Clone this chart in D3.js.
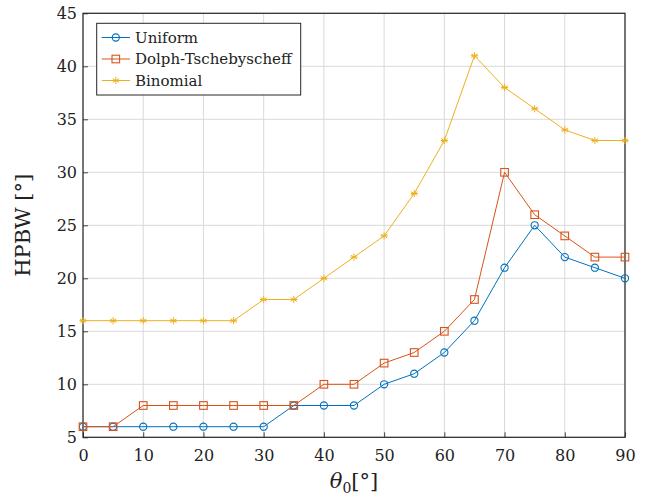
<!DOCTYPE html>
<html>
<head>
<meta charset="utf-8">
<script src="https://cdn.jsdelivr.net/npm/d3@7"></script>
<style>
  body { margin: 0; background: #fff; }
  svg text { font-family: "DejaVu Serif"; fill: #222; }
</style>
</head>
<body>
<div class="box"></div>
<script>
const angles = [0, 5, 10, 15, 20, 25, 30, 35, 40, 45, 50, 55, 60, 65, 70, 75, 80, 85, 90];
const uniform = [6, 6, 6, 6, 6, 6, 6, 8, 8, 8, 10, 11, 13, 16, 21, 25, 22, 21, 20];
const dolph = [6, 6, 8, 8, 8, 8, 8, 8, 10, 10, 12, 13, 15, 18, 30, 26, 24, 22, 22];
const binomial = [16, 16, 16, 16, 16, 16, 18, 18, 20, 22, 24, 28, 33, 41, 38, 36, 34, 33, 33];
const seriesNames = ['Uniform', 'Dolph-Tschebyscheff', 'Binomial'];
const xTicks = [0, 10, 20, 30, 40, 50, 60, 70, 80, 90];
const yTicks = [5, 10, 15, 20, 25, 30, 35, 40, 45];

const dims = {width: 646, height: 495, left: 83, right: 625, top: 13.3, bottom: 437.3};
const serif = '"DejaVu Serif"';

const svg = d3.select('.box')
              .append('svg')
              .attr('width', dims.width)
              .attr('height', dims.height);

const x = d3.scaleLinear().domain([0, 90]).range([dims.left, dims.right]);
const y = d3.scaleLinear().domain([5, 45]).range([dims.bottom, dims.top]);

// grille
const grid = svg.append('g');
grid.selectAll('.gx').data(xTicks).enter().append('line')
    .attr('x1', d => x(d)).attr('x2', d => x(d))
    .attr('y1', dims.top).attr('y2', dims.bottom)
    .attr('stroke', '#d9d9d9').attr('stroke-width', 1);
grid.selectAll('.gy').data(yTicks).enter().append('line')
    .attr('x1', dims.left).attr('x2', dims.right)
    .attr('y1', d => y(d)).attr('y2', d => y(d))
    .attr('stroke', '#d9d9d9').attr('stroke-width', 1);

// axes (ticks vers l'intérieur)
const xAxis = svg.append('g')
                 .attr('transform', `translate(0, ${dims.bottom})`)
                 .call(d3.axisBottom(x).tickValues(xTicks).tickSize(-5).tickPadding(12).tickSizeOuter(0));
const yAxis = svg.append('g')
                 .attr('transform', `translate(${dims.left}, 0)`)
                 .call(d3.axisLeft(y).tickValues(yTicks).tickSize(-5).tickPadding(6).tickSizeOuter(0));
[xAxis, yAxis].forEach(a => {
    a.attr('font-family', serif);
    a.select('.domain').remove();
    a.selectAll('line').attr('stroke', '#444');
    a.selectAll('text').style('font-size', '16px').attr('fill', '#222')
     .style('font-family', serif);
});
yAxis.selectAll('text').attr('dy', '0.35em');

// cadre
svg.append('rect')
   .attr('x', dims.left).attr('y', dims.top)
   .attr('width', dims.right - dims.left).attr('height', dims.bottom - dims.top)
   .attr('fill', 'none').attr('stroke', '#262626').attr('stroke-width', 1.2);

const colors = ['#0072BD', '#D95319', '#EDB120'];
const allSeries = [uniform, dolph, binomial];

const line = d3.line()
               .x((d, i) => x(angles[i]))
               .y(d => y(d));

const drawMarker = (g, kind, color, cx, cy) => {
    if (kind === 0) {
        g.append('circle').attr('cx', cx).attr('cy', cy).attr('r', 3.6)
         .attr('fill', 'none').attr('stroke', color).attr('stroke-width', 1.1);
    } else if (kind === 1) {
        g.append('rect').attr('x', cx - 3.8).attr('y', cy - 3.8)
         .attr('width', 7.6).attr('height', 7.6)
         .attr('fill', 'none').attr('stroke', color).attr('stroke-width', 1.1);
    } else {
        const r = 3.6;
        const p = [[0, -r, 0, r], [-r * 0.87, -r / 2, r * 0.87, r / 2], [-r * 0.87, r / 2, r * 0.87, -r / 2], [-r, 0, r, 0]];
        p.forEach(s => g.append('line')
            .attr('x1', cx + s[0]).attr('y1', cy + s[1]).attr('x2', cx + s[2]).attr('y2', cy + s[3])
            .attr('stroke', color).attr('stroke-width', 1));
    }
};

allSeries.forEach((vals, k) => {
    const g = svg.append('g');
    g.append('path').datum(vals)
     .attr('d', line)
     .attr('fill', 'none').attr('stroke', colors[k]).attr('stroke-width', 1);
    vals.forEach((v, i) => drawMarker(g, k, colors[k], x(angles[i]), y(v)));
});

// légende
const leg = svg.append('g');
leg.append('rect')
   .attr('x', 96.7).attr('y', 23.3).attr('width', 204).attr('height', 71.7)
   .attr('fill', '#fff').attr('stroke', '#262626').attr('stroke-width', 1);
seriesNames.forEach((name, k) => {
    const cy = 37.5 + k * 21.5;
    leg.append('line').attr('x1', 101.7).attr('x2', 130).attr('y1', cy).attr('y2', cy)
       .attr('stroke', colors[k]).attr('stroke-width', 1);
    drawMarker(leg, k, colors[k], 115.8, cy);
    leg.append('text').attr('x', 135).attr('y', cy).attr('dy', '0.35em')
       .style('font-family', serif).style('font-size', '15px').text(name);
});

// titres des axes
svg.append('text')
   .attr('x', (dims.left + dims.right) / 2).attr('y', 488)
   .attr('text-anchor', 'middle').style('font-size', '21px').style('font-family', serif)
   .html('<tspan font-style="italic">θ</tspan><tspan font-size="14px" dy="5">0</tspan><tspan dy="-5">[°]</tspan>');

svg.append('text')
   .attr('transform', `translate(30, ${(dims.top + dims.bottom) / 2}) rotate(-90)`)
   .attr('text-anchor', 'middle').style('font-size', '21px').style('font-family', serif)
   .text('HPBW [°]');
</script>
</body>
</html>
